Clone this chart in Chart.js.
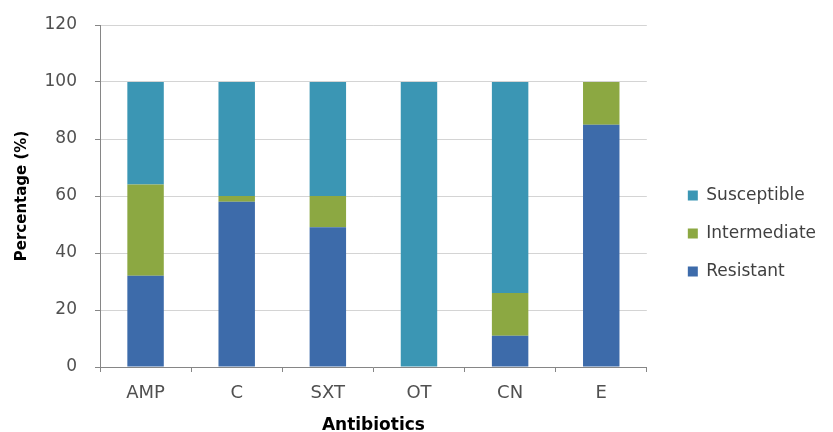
<!DOCTYPE html>
<html>
<head>
<meta charset="utf-8">
<script src="https://cdn.jsdelivr.net/npm/chart.js@4.4.0/dist/chart.umd.min.js"></script>
<style>
  html, body { margin: 0; padding: 0; background: #fff; }
  #wrap { width: 833px; height: 432px; }
</style>
</head>
<body>
<div id="wrap"><canvas id="abChart"></canvas></div>
<script>
// antibiotics on the x axis
var antibiotics = ['AMP', 'C', 'SXT', 'OT', 'CN', 'E'];

// percentages
var resistant    = [32, 58, 49, 0, 11, 85];
var intermediate = [32,  2, 11, 0, 15, 15];
var susceptible  = [36, 40, 40, 100, 74, 0];

var yTicks = [0, 20, 40, 60, 80, 100, 120];

const ctx = document.getElementById('abChart').getContext('2d');

const myChart = new Chart(ctx, {
    type: 'bar',
    data: {
        labels: antibiotics,
        datasets: [{
            label: 'Resistant',
            data: resistant,
            backgroundColor: '#3d6baa'
        }, {
            label: 'Intermediate',
            data: intermediate,
            backgroundColor: '#8ca842'
        }, {
            label: 'Susceptible',
            data: susceptible,
            backgroundColor: '#3b96b4'
        }]
    },
    options: {
        responsive: true,
        maintainAspectRatio: false,
        animation: false,
        layout: { padding: { left: 13, top: 25, right: 7, bottom: 0 } },
        datasets: {
            bar: { barPercentage: 0.4, categoryPercentage: 1.0 }
        },
        plugins: {
            tooltip: { enabled: false },
            legend: {
                position: 'right',
                reverse: true,
                maxWidth: 170,
                title: {
                    display: true,
                    text: ' ',
                    padding: 0,
                    font: { size: 10, lineHeight: 1 }
                },
                labels: {
                    boxWidth: 10,
                    boxHeight: 10,
                    padding: 21,
                    color: '#404040',
                    font: { family: 'DejaVu Sans', size: 17 }
                }
            }
        },
        scales: {
            x: {
                stacked: true,
                afterFit: function (scale) { scale.height = 65; },
                grid: {
                    offset: true,
                    drawOnChartArea: false,
                    drawTicks: true,
                    tickLength: 5,
                    color: '#868686'
                },
                border: { display: true, color: '#868686' },
                ticks: {
                    color: '#505050',
                    padding: 11,
                    font: { family: 'DejaVu Sans', size: 18 }
                },
                title: {
                    display: true,
                    text: 'Antibiotics',
                    color: '#000',
                    padding: { top: 8, bottom: 0 },
                    font: { family: 'DejaVu Sans', size: 17, weight: 'bold', lineHeight: 0.8 }
                }
            },
            y: {
                stacked: true,
                min: 0,
                max: 120,
                afterFit: function (scale) {
                    scale.width = 87;
                    scale.paddingTop = 0;
                    scale.paddingBottom = 0;
                },
                afterBuildTicks: function (axis) {
                    axis.ticks = yTicks.map(function (v) { return { value: v }; });
                },
                grid: {
                    color: '#d4d4d4',
                    tickLength: 5,
                    tickColor: '#868686'
                },
                border: { display: true, color: '#868686' },
                ticks: {
                    color: '#505050',
                    padding: 18,
                    font: { family: 'DejaVu Sans', size: 17 }
                },
                title: {
                    display: true,
                    text: 'Percentage (%)',
                    color: '#000',
                    padding: { top: 0, bottom: 0 },
                    font: { family: 'DejaVu Sans', size: 15, weight: 'bold' }
                }
            },
            // empty axis, only keeps a gap between the bars and the legend
            gap: {
                position: 'right',
                display: true,
                grid: { display: false },
                border: { display: false },
                ticks: { display: false },
                afterFit: function (scale) { scale.width = 20; }
            }
        }
    }
});
</script>
</body>
</html>
